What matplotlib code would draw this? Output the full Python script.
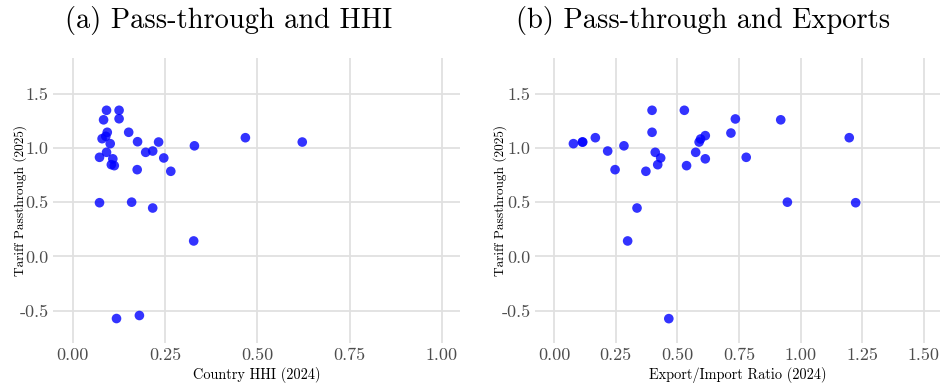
import matplotlib
matplotlib.use("Agg")
import matplotlib.pyplot as plt
from matplotlib.ticker import FormatStrFormatter

# data
hhi = [0.092, 0.126, 0.084, 0.126, 0.094, 0.152, 0.080, 0.090, 0.102, 0.176,
       0.233, 0.330, 0.468, 0.622, 0.092, 0.073, 0.198, 0.217, 0.247, 0.109,
       0.105, 0.113, 0.175, 0.266, 0.073, 0.160, 0.217, 0.328, 0.119, 0.181]
pass_a = [1.348, 1.348, 1.260, 1.270, 1.145, 1.145, 1.086, 1.108, 1.040, 1.058,
          1.055, 1.020, 1.095, 1.055, 0.960, 0.914, 0.960, 0.972, 0.908, 0.900,
          0.846, 0.837, 0.800, 0.785, 0.495, 0.500, 0.446, 0.142, -0.574, -0.546]

ratio = [0.078, 0.116, 0.114, 0.167, 0.217, 0.283, 0.247, 0.397, 0.397, 0.410,
         0.432, 0.420, 0.372, 0.528, 0.537, 0.574, 0.588, 0.594, 0.613, 0.613,
         0.717, 0.735, 0.779, 0.919, 0.946, 1.197, 1.223, 0.336, 0.298, 0.465]
pass_b = [1.040, 1.055, 1.055, 1.095, 0.972, 1.020, 0.800, 1.348, 1.145, 0.960,
          0.908, 0.846, 0.785, 1.348, 0.837, 0.960, 1.055, 1.083, 1.114, 0.900,
          1.138, 1.268, 0.914, 1.260, 0.500, 1.095, 0.495, 0.446, 0.142, -0.575]

hhi_ticks = [0.0, 0.25, 0.5, 0.75, 1.0]
ratio_ticks = [0.0, 0.25, 0.5, 0.75, 1.0, 1.25, 1.5]
y_ticks = [-0.5, 0.0, 0.5, 1.0, 1.5]

plt.rcParams['font.family'] = ['cmr10', 'DejaVu Serif']
plt.rcParams['axes.unicode_minus'] = False
plt.rcParams['mathtext.fontset'] = 'cm'

fig = plt.figure(figsize=(9.41, 3.83), dpi=100)
ax1 = fig.add_axes([0.0563, 0.1044, 0.4325, 0.744])
ax2 = fig.add_axes([0.5685, 0.1044, 0.4304, 0.744])

panels = [
    (ax1, hhi, pass_a, hhi_ticks, (-0.053, 1.049), "Country HHI (2024)", -0.065),
    (ax2, ratio, pass_b, ratio_ticks, (-0.078, 1.565), "Export/Import Ratio (2024)", -0.068),
]

for ax, x, y, xt, xl, xlab, ylx in panels:
    ax.scatter(x, y, s=48, color=(0, 0, 1), alpha=0.8, edgecolors='none', zorder=3)
    ax.set_xlim(*xl)
    ax.set_ylim(-0.80, 1.83)
    ax.set_xticks(xt)
    ax.set_yticks(y_ticks)
    ax.xaxis.set_major_formatter(FormatStrFormatter("%.2f"))
    ax.yaxis.set_major_formatter(FormatStrFormatter("%.1f"))
    ax.grid(True, color='#e0e0e0', linewidth=1.3, zorder=0)
    ax.set_axisbelow(True)
    for s in ax.spines.values():
        s.set_visible(False)
    ax.tick_params(length=0, labelsize=13, labelcolor='#4d4d4d', pad=3)
    ax.set_xlabel(xlab, fontsize=10.3)
    ax.set_ylabel("Tariff Passthrough (2025)", fontsize=9.6)
    ax.xaxis.set_label_coords(0.5, -0.083)
    ax.yaxis.set_label_coords(ylx, 0.5)

fig.text(0.243, 0.927, "(a) Pass-through and HHI", fontsize=20.5, ha='center', va='baseline')
fig.text(0.747, 0.927, "(b) Pass-through and Exports", fontsize=20.5, ha='center', va='baseline')

fig.savefig("out.png", dpi=100)
